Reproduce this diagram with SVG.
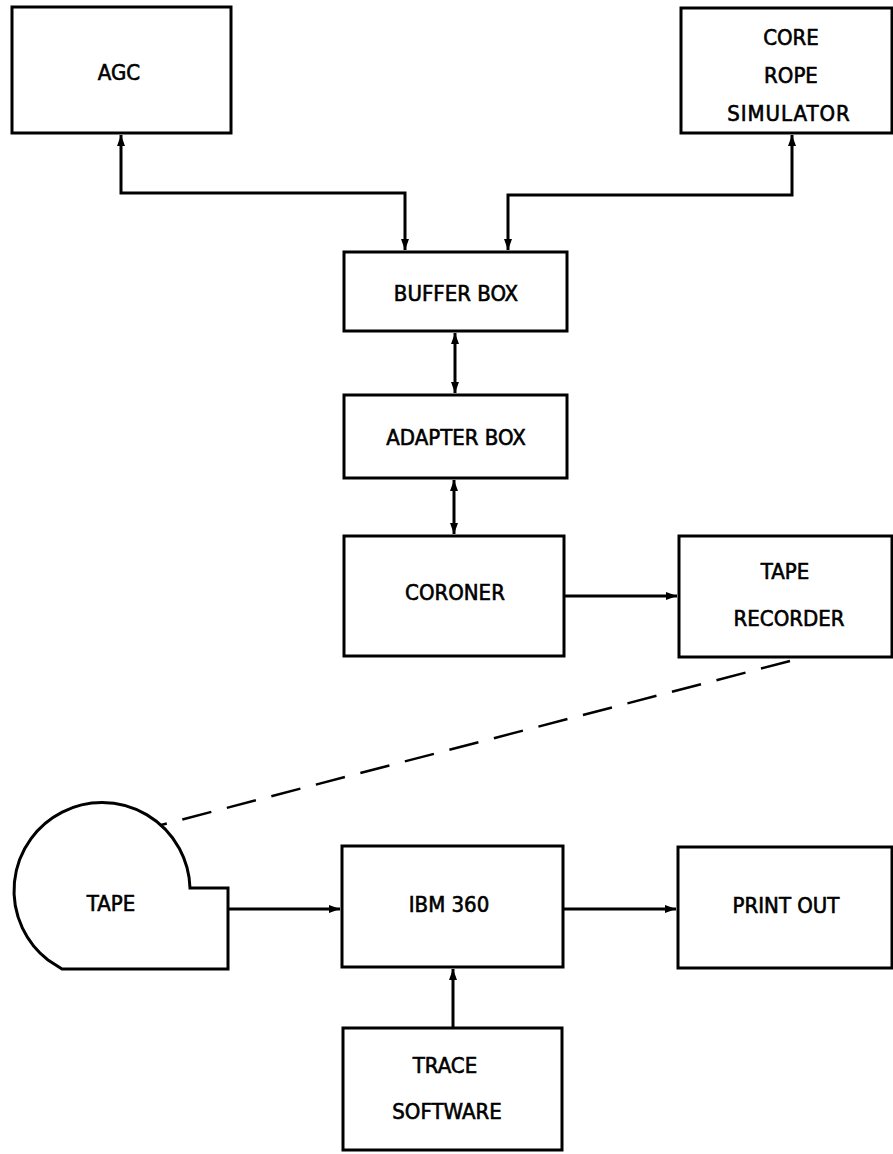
<svg xmlns="http://www.w3.org/2000/svg" width="893" height="1154" viewBox="0 0 893 1154">
<style>
.box{fill:#fff;stroke:#000;stroke-width:3}
.lbl{font-family:"DejaVu Sans Condensed","DejaVu Sans",sans-serif;font-size:22px;fill:#000;stroke:#000;stroke-width:0.6;text-anchor:middle}
.wire{fill:none;stroke:#000;stroke-width:3}
.dash{fill:none;stroke:#000;stroke-width:2.5;stroke-dasharray:30 16}
</style>
<defs>
<marker id="ah" markerUnits="userSpaceOnUse" markerWidth="12" markerHeight="8" refX="11" refY="4" orient="auto-start-reverse">
<path d="M0,0 L11,4 L0,8 Z" fill="#000"/>
</marker>
</defs>
<rect width="893" height="1154" fill="#fff"/>
<g id="connectors">
<path class="wire" d="M121,135 V193 H405 V250" marker-start="url(#ah)" marker-end="url(#ah)"/>
<path class="wire" d="M792,135 V195 H508 V250" marker-start="url(#ah)" marker-end="url(#ah)"/>
<path class="wire" d="M455,333 V393" marker-start="url(#ah)" marker-end="url(#ah)"/>
<path class="wire" d="M454,480 V534" marker-start="url(#ah)" marker-end="url(#ah)"/>
<path class="wire" d="M564,596 H677" marker-end="url(#ah)"/>
<path class="dash" d="M790,661 L161,825"/>
<path class="wire" d="M228,909 H340" marker-end="url(#ah)"/>
<path class="wire" d="M563,909 H676" marker-end="url(#ah)"/>
<path class="wire" d="M453,1028 V969" marker-end="url(#ah)"/>
</g>
<g id="agc">
<rect class="box" x="12" y="7" width="219" height="126"/>
<text class="lbl" x="119" y="80">AGC</text>
</g>
<g id="core-rope-simulator">
<rect class="box" x="681" y="8" width="211" height="125"/>
<text class="lbl" x="791" y="45">CORE</text>
<text class="lbl" x="791" y="83">ROPE</text>
<text class="lbl" x="789" y="121" letter-spacing="1">SIMULATOR</text>
</g>
<g id="buffer-box">
<rect class="box" x="344" y="252" width="223" height="79"/>
<text class="lbl" x="456" y="301">BUFFER BOX</text>
</g>
<g id="adapter-box">
<rect class="box" x="344" y="395" width="223" height="83"/>
<text class="lbl" x="456" y="445">ADAPTER BOX</text>
</g>
<g id="coroner">
<rect class="box" x="344" y="536" width="220" height="120"/>
<text class="lbl" x="455" y="600">CORONER</text>
</g>
<g id="tape-recorder">
<rect class="box" x="679" y="536" width="213" height="121"/>
<text class="lbl" x="785" y="579">TAPE</text>
<text class="lbl" x="789" y="626">RECORDER</text>
</g>
<g id="tape">
<path class="box" d="M62,969 H228 V888 H190 A88,88 0 1 0 48,960 Z"/>
<text class="lbl" x="111" y="911">TAPE</text>
</g>
<g id="ibm-360">
<rect class="box" x="342" y="846" width="221" height="121"/>
<text class="lbl" x="449" y="912">IBM 360</text>
</g>
<g id="print-out">
<rect class="box" x="678" y="847" width="214" height="121"/>
<text class="lbl" x="786" y="913">PRINT OUT</text>
</g>
<g id="trace-software">
<rect class="box" x="343" y="1028" width="219" height="122"/>
<text class="lbl" x="445" y="1073">TRACE</text>
<text class="lbl" x="447" y="1119">SOFTWARE</text>
</g>
</svg>
